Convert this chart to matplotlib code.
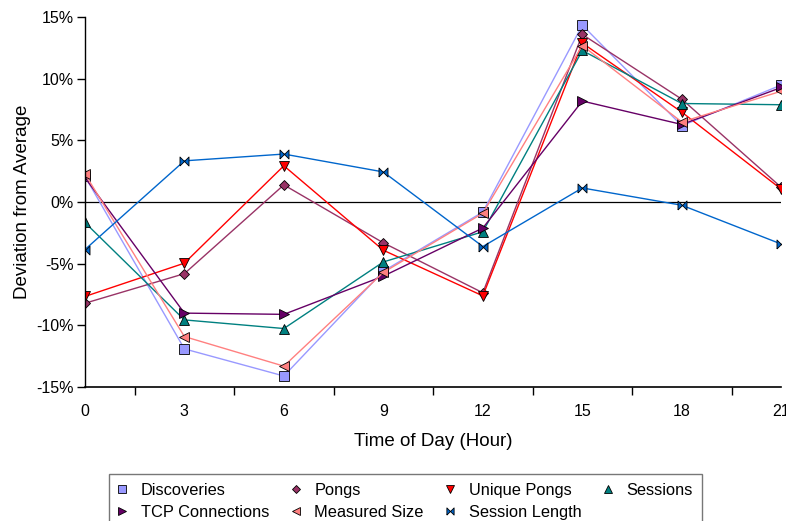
import matplotlib
matplotlib.use("Agg")
import matplotlib.pyplot as plt
from matplotlib.ticker import FixedLocator, FuncFormatter

plt.rcParams['font.family'] = ['Liberation Sans', 'DejaVu Sans']

# hours of day
hours = [0, 3, 6, 9, 12, 15, 18, 21]

# deviation from average, in percent
discoveries = [2.1, -11.9, -14.1, -5.6, -0.8, 14.35, 6.2, 9.5]
pongs = [-8.2, -5.8, 1.4, -3.3, -7.35, 13.6, 8.35, 1.2]
unique_pongs = [-7.65, -4.95, 2.95, -3.9, -7.6, 12.9, 7.3, 1.05]
sessions = [-1.65, -9.55, -10.25, -4.85, -2.4, 12.3, 8.0, 7.9]
tcp_connections = [2.0, -9.0, -9.1, -6.0, -2.1, 8.2, 6.3, 9.3]
measured_size = [2.3, -10.9, -13.3, -5.7, -0.9, 12.7, 6.5, 9.0]
session_length = [-3.85, 3.35, 3.9, 2.45, -3.6, 1.15, -0.25, -3.4]

bowtie = [(-1, -1), (1, 1), (1, -1), (-1, 1), (-1, -1)]

series = [
    ("Discoveries", discoveries, "#9999FF", "s", 7),
    ("Pongs", pongs, "#993366", "D", 5.5),
    ("Unique Pongs", unique_pongs, "#FF0000", "v", 7),
    ("Sessions", sessions, "#008080", "^", 7),
    ("TCP Connections", tcp_connections, "#660066", ">", 7),
    ("Measured Size", measured_size, "#FF8080", "<", 7),
    ("Session Length", session_length, "#0066CC", bowtie, 6.5),
]

fig = plt.figure(figsize=(7.86, 5.21), dpi=100)
ax = fig.add_axes([0.108, 0.257, 0.886, 0.71])

handles = {}
for name, vals, col, mk, ms in series:
    h, = ax.plot(hours, vals, color=col, linewidth=1, marker=mk, markersize=ms,
                 markerfacecolor=col, markeredgecolor="black", markeredgewidth=0.6,
                 label=name)
    handles[name] = h

ax.axhline(0, color="black", linewidth=0.9, zorder=1)

ax.set_xlim(0, 21)
ax.set_ylim(-15, 15)
ax.set_yticks([-15, -10, -5, 0, 5, 10, 15])
ax.yaxis.set_major_formatter(FuncFormatter(lambda v, p: f"{int(v)}%"))
ax.set_xticks(hours)
ax.xaxis.set_minor_locator(FixedLocator([1.5, 4.5, 7.5, 10.5, 13.5, 16.5, 19.5]))
ax.tick_params(axis="x", which="major", length=0, pad=12, labelsize=11.5)
ax.tick_params(axis="x", which="minor", length=6, width=1, direction="out")
ax.tick_params(axis="y", length=6, width=1, labelsize=11.5, pad=2)

for s in ["top", "right"]:
    ax.spines[s].set_visible(False)
ax.spines["left"].set_linewidth(1)
ax.spines["bottom"].set_linewidth(1.2)

ax.set_xlabel("Time of Day (Hour)", fontsize=13.5, labelpad=10)
ax.set_ylabel("Deviation from Average", fontsize=13.5, labelpad=4)

order = ["Discoveries", "TCP Connections", "Pongs", "Measured Size",
         "Unique Pongs", "Session Length", "Sessions"]
leg = fig.legend([handles[n] for n in order], order, ncol=4,
                 loc="upper left", bbox_to_anchor=(109 / 786, 1 - 474 / 521),
                 fontsize=11.8, frameon=True, fancybox=False, handlelength=0.5,
                 columnspacing=1.35, handletextpad=0.9, borderpad=0.55,
                 borderaxespad=0, labelspacing=0.4, markerscale=0.8)
for h in leg.legend_handles:
    h.set_linestyle("none")
leg.get_frame().set_edgecolor("#555555")
leg.get_frame().set_linewidth(1)

fig.savefig("out.png", dpi=100)
